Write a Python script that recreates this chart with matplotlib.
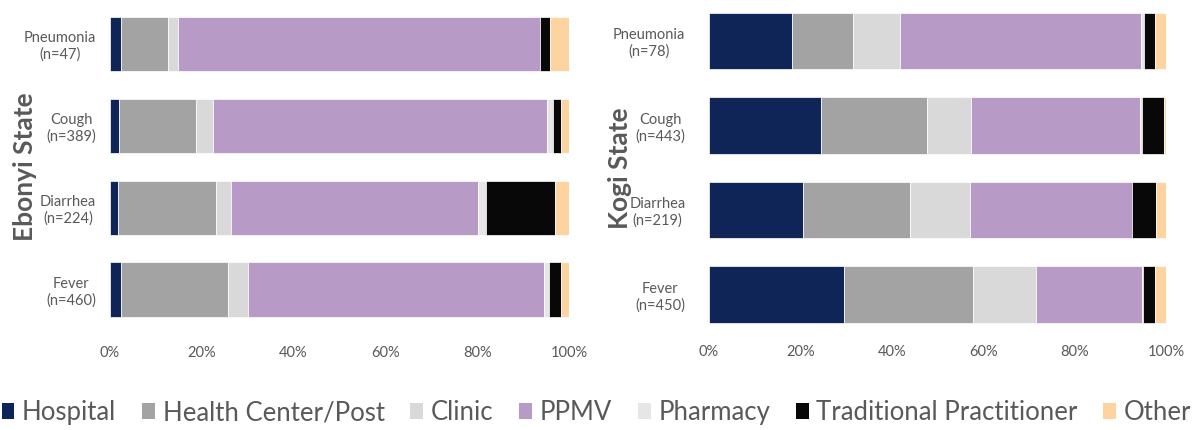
import matplotlib.pyplot as plt
import numpy as np
from matplotlib.patches import Patch

plt.rcParams['font.family'] = ['Lato', 'DejaVu Sans']

categories = ['Hospital', 'Health Center/Post', 'Clinic', 'PPMV', 'Pharmacy',
              'Traditional Practitioner', 'Other']
colors = ['#0f2557', '#a3a3a3', '#d9d9d9', '#b89ac7', '#e6e6e6', '#080808', '#fdd3a0']

ebonyi_labels = ['Pneumonia\n(n=47)', 'Cough\n(n=389)', 'Diarrhea\n(n=224)', 'Fever\n(n=460)']
kogi_labels = ['Pneumonia\n(n=78)', 'Cough\n(n=443)', 'Diarrhea\n(n=219)', 'Fever\n(n=450)']

# percent per category, rows = illness
ebonyi = np.array([
    [2.3, 10.4, 2.1, 78.8, 0.0, 2.2, 4.2],
    [1.9, 16.8, 3.7, 72.7, 1.4, 1.75, 1.75],
    [1.7, 21.3, 3.4, 53.7, 1.7, 15.2, 3.0],
    [2.3, 23.4, 4.3, 64.6, 1.1, 2.55, 1.75],
])
kogi = np.array([
    [18.2, 13.3, 10.3, 52.8, 0.6, 2.4, 2.4],
    [24.5, 23.3, 9.6, 36.9, 0.4, 4.9, 0.4],
    [20.6, 23.4, 13.2, 35.4, 0.0, 5.1, 2.3],
    [29.5, 28.2, 13.9, 23.2, 0.2, 2.6, 2.4],
])

txt = '#595959'
fig = plt.figure(figsize=(11.93, 4.30), dpi=100)
ax1 = fig.add_axes([0.0922, 0.2316, 0.3848, 0.7612])
ax2 = fig.add_axes([0.5943, 0.2169, 0.3831, 0.7861])


def draw(ax, data, labels, height, state, xpad, ypad, state_x):
    y = np.arange(len(labels))
    left = np.zeros(len(labels))
    for j in range(len(categories)):
        ax.barh(y, data[:, j], left=left, height=height, color=colors[j],
                edgecolor='white', linewidth=0.5)
        left += data[:, j]
    ax.set_ylim(len(labels) - 0.5, -0.5)
    ax.set_xlim(0, 100)
    ax.set_yticks(y)
    ax.set_yticklabels(labels, fontsize=10.5, color=txt, multialignment='center')
    ax.set_xticks(np.arange(0, 101, 20))
    ax.set_xticklabels([f'{v}%' for v in range(0, 101, 20)], fontsize=10.5, color=txt)
    ax.tick_params(axis='both', length=0)
    ax.tick_params(axis='x', pad=xpad)
    ax.tick_params(axis='y', pad=ypad)
    for s in ax.spines.values():
        s.set_visible(False)
    ax.text(state_x, 0.5, state, transform=ax.transAxes, rotation=90, fontsize=19,
            fontweight='bold', color=txt, ha='center', va='center')


draw(ax1, ebonyi, ebonyi_labels, 0.66, 'Ebonyi State', 11, 10, -0.185)
draw(ax2, kogi, kogi_labels, 0.67, 'Kogi State', 6, 17, -0.195)

handles = [Patch(facecolor=c, label=l) for c, l in zip(colors, categories)]
leg = fig.legend(handles=handles, loc='center', bbox_to_anchor=(0.5, 0.04), ncol=7,
                 frameon=False, fontsize=18.5, handlelength=0.5, handleheight=0.6,
                 handletextpad=0.3, columnspacing=1.0)
for t in leg.get_texts():
    t.set_color(txt)

fig.savefig('out.png', dpi=100)
